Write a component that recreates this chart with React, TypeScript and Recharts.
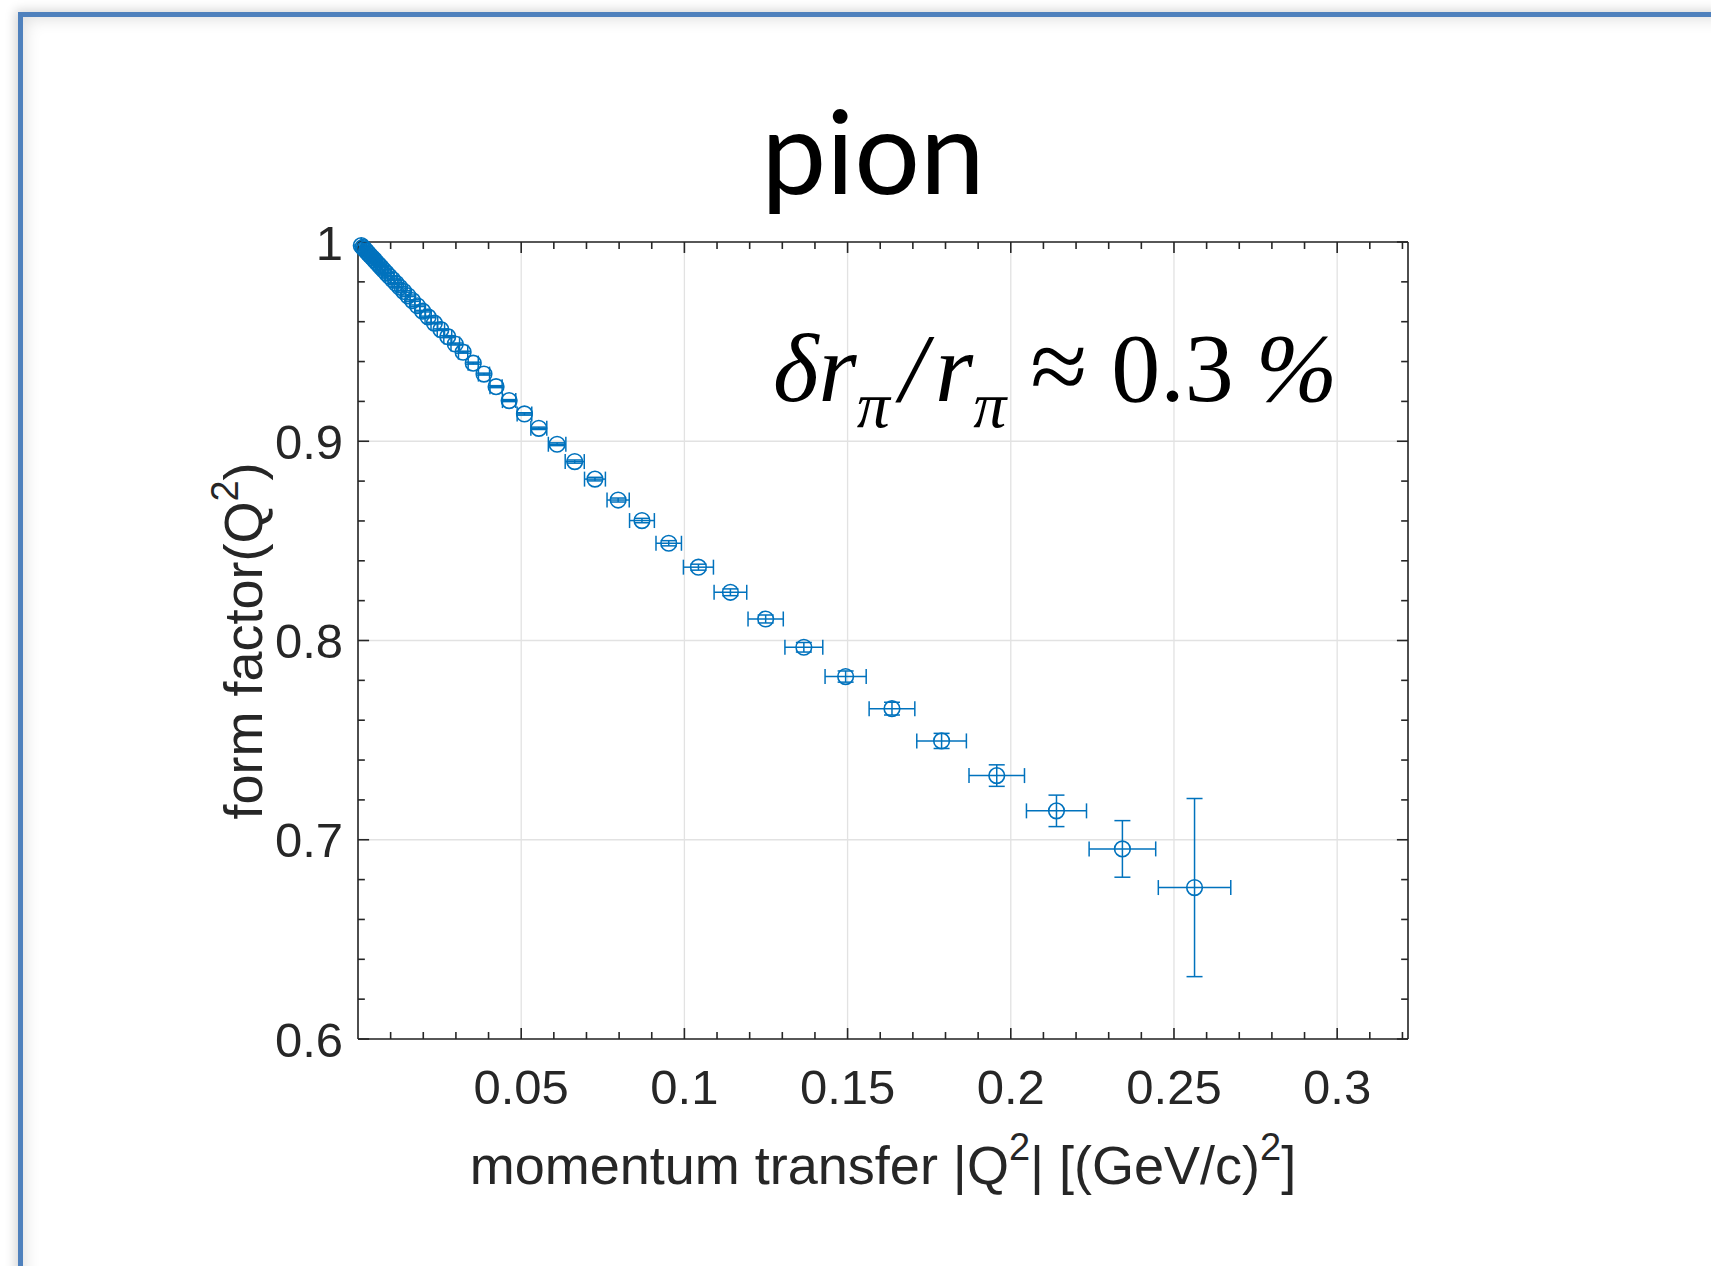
import {
  CartesianGrid,
  ErrorBar,
  ReferenceLine,
  Scatter,
  ScatterChart,
  XAxis,
  YAxis,
} from "recharts";

// momentum transfer |Q^2| in (GeV/c)^2
const qSquared = [
  0.001, 0.0015, 0.002, 0.0026, 0.0032, 0.0038, 0.0044, 0.005, 0.0057, 0.0064,
  0.0071, 0.0079, 0.0087, 0.0096, 0.0106, 0.0117, 0.0128, 0.014, 0.0153, 0.0167,
  0.0182, 0.0198, 0.0215, 0.0234, 0.0254, 0.0275, 0.0298, 0.0322, 0.0353, 0.0386,
  0.0423, 0.0463, 0.051, 0.0554, 0.061, 0.0664, 0.0726, 0.0797, 0.087, 0.0952,
  0.1043, 0.1141, 0.1249, 0.1366, 0.1494, 0.1636, 0.1788, 0.1957, 0.214, 0.2342,
  0.2563,
];
const formFactor = [
  0.9982, 0.9973, 0.9964, 0.9953, 0.9942, 0.9931, 0.9921, 0.991, 0.9897, 0.9885,
  0.9873, 0.9858, 0.9844, 0.9828, 0.9811, 0.9792, 0.9773, 0.9752, 0.973, 0.9706,
  0.968, 0.9653, 0.9624, 0.9593, 0.956, 0.9525, 0.9488, 0.9447, 0.9392, 0.9337,
  0.9274, 0.9204, 0.9137, 0.9065, 0.8985, 0.8898, 0.881, 0.8705, 0.8602, 0.8488,
  0.8368, 0.8242, 0.8108, 0.7966, 0.7819, 0.7658, 0.7496, 0.7322, 0.7145, 0.6954,
  0.676,
];
const qSquaredErr = [
  0.00004, 0.00007, 0.00009, 0.00011, 0.00014, 0.00017, 0.00019, 0.00022, 0.00025, 0.00028,
  0.00031, 0.00035, 0.00038, 0.00042, 0.00047, 0.00051, 0.00056, 0.00062, 0.00067, 0.00073,
  0.0008, 0.00087, 0.00095, 0.00103, 0.00112, 0.00121, 0.00131, 0.00142, 0.00155, 0.0017,
  0.00186, 0.00204, 0.00224, 0.00244, 0.00268, 0.00292, 0.0032, 0.0034, 0.0038, 0.0039,
  0.0046, 0.005, 0.0054, 0.0058, 0.0063, 0.007, 0.0076, 0.0085, 0.0092, 0.0102,
  0.0111,
];
const formFactorErr = [
  0.0003, 0.0003, 0.0003, 0.0003, 0.0003, 0.0003, 0.0003, 0.0003, 0.0003, 0.0003,
  0.0003, 0.0003, 0.0003, 0.0003, 0.0004, 0.0004, 0.0004, 0.0004, 0.0004, 0.0004,
  0.0004, 0.0004, 0.0004, 0.0004, 0.0004, 0.0005, 0.0005, 0.0005, 0.0005, 0.0005,
  0.0005, 0.0005, 0.0006, 0.0006, 0.0007, 0.0008, 0.0009, 0.001, 0.0011, 0.0013,
  0.0015, 0.0017, 0.002, 0.0024, 0.0028, 0.0032, 0.0038, 0.0054, 0.0079, 0.0142,
  0.0447,
];

const xMajorTicks = [0.05, 0.1, 0.15, 0.2, 0.25, 0.3];
const xMinorTicks = [
  0.01, 0.02, 0.03, 0.04, 0.06, 0.07, 0.08, 0.09, 0.11, 0.12, 0.13, 0.14, 0.16,
  0.17, 0.18, 0.19, 0.21, 0.22, 0.23, 0.24, 0.26, 0.27, 0.28, 0.29, 0.31, 0.32,
];
const yMajorTicks = [0.6, 0.7, 0.8, 0.9, 1];
const yMinorTicks = [
  0.62, 0.64, 0.66, 0.68, 0.72, 0.74, 0.76, 0.78, 0.82, 0.84, 0.86, 0.88, 0.92,
  0.94, 0.96, 0.98,
];

const X_MIN = 0;
const X_MAX = 0.3217;
const Y_MIN = 0.6;
const Y_MAX = 1;

const BLUE = "#0072BD";
const AXIS = "#262626";
const TICK_TEXT = "#262626";
const SANS = "'Liberation Sans', Arial, Helvetica, sans-serif";

// inward tick lengths, in data units (about 11 px major / 7 px minor)
const X_TICK_MAJOR = 0.0055;
const X_TICK_MINOR = 0.0035;
const Y_TICK_MAJOR = 0.0034;
const Y_TICK_MINOR = 0.0021;

const points = qSquared.map((x, i) => ({
  x,
  y: formFactor[i],
  xErr: qSquaredErr[i],
  yErr: formFactorErr[i],
}));

const frameLine = { stroke: AXIS, strokeWidth: 1.6 };

function Marker(props: any) {
  const { cx, cy } = props;
  if (cx == null || cy == null) return <g />;
  return <circle cx={cx} cy={cy} r={7.8} fill="none" stroke={BLUE} strokeWidth={1.6} />;
}

function BottomLabel({ x, y, payload }: any) {
  return (
    <text x={x} y={y + 65} textAnchor="middle" fontSize={49} fontFamily={SANS} fill={TICK_TEXT}>
      {String(payload.value)}
    </text>
  );
}

function LeftLabel({ x, y, payload }: any) {
  return (
    <text x={x - 15} y={y} dy="0.36em" textAnchor="end" fontSize={49} fontFamily={SANS} fill={TICK_TEXT}>
      {String(payload.value)}
    </text>
  );
}

const NoLabel = () => <g />;

function tickSegments() {
  const out: any[] = [];
  const add = (key: string, a: any, b: any) =>
    out.push(
      <ReferenceLine
        key={key}
        segment={[a, b]}
        stroke={AXIS}
        strokeWidth={1.6}
        ifOverflow="visible"
      />
    );
  xMajorTicks.forEach((t) => {
    add(`xb${t}`, { x: t, y: Y_MIN }, { x: t, y: Y_MIN + X_TICK_MAJOR });
    add(`xt${t}`, { x: t, y: Y_MAX }, { x: t, y: Y_MAX - X_TICK_MAJOR });
  });
  xMinorTicks.forEach((t) => {
    add(`xbm${t}`, { x: t, y: Y_MIN }, { x: t, y: Y_MIN + X_TICK_MINOR });
    add(`xtm${t}`, { x: t, y: Y_MAX }, { x: t, y: Y_MAX - X_TICK_MINOR });
  });
  yMajorTicks.forEach((t) => {
    add(`yl${t}`, { x: X_MIN, y: t }, { x: X_MIN + Y_TICK_MAJOR, y: t });
    add(`yr${t}`, { x: X_MAX, y: t }, { x: X_MAX - Y_TICK_MAJOR, y: t });
  });
  yMinorTicks.forEach((t) => {
    add(`ylm${t}`, { x: X_MIN, y: t }, { x: X_MIN + Y_TICK_MINOR, y: t });
    add(`yrm${t}`, { x: X_MAX, y: t }, { x: X_MAX - Y_TICK_MINOR, y: t });
  });
  return out;
}

export default function App() {
  const xDomain = [X_MIN, X_MAX];
  const yDomain = [Y_MIN, Y_MAX];

  return (
    <div
      style={{
        position: "absolute",
        left: 0,
        top: 0,
        width: 1711,
        height: 1266,
        overflow: "hidden",
        background: "#ffffff",
      }}
    >
      <div
        style={{
          position: "absolute",
          left: 18,
          top: 12,
          width: 1760,
          height: 1320,
          borderLeft: "5px solid #4F81BD",
          borderTop: "5px solid #4F81BD",
          boxShadow:
            "-3px -2px 10px rgba(0,0,0,0.16), inset 10px 10px 16px -8px rgba(0,0,0,0.13)",
          background: "#ffffff",
        }}
      />
      <div style={{ position: "absolute", left: 0, top: 0 }}>
        <ScatterChart
          width={1711}
          height={1266}
          margin={{ top: 241, right: 302, bottom: 226, left: 357 }}
        >
          <CartesianGrid stroke="#e2e2e2" strokeWidth={1.3} />
          <XAxis
            xAxisId={0}
            type="number"
            dataKey="x"
            domain={xDomain}
            ticks={xMajorTicks}
            interval={0}
            height={1}
            tickSize={0}
            tickMargin={0}
            tick={BottomLabel}
            axisLine={frameLine}
            tickLine={false}
          />
          <XAxis
            xAxisId="top"
            orientation="top"
            type="number"
            domain={xDomain}
            ticks={xMajorTicks}
            interval={0}
            height={1}
            tickSize={0}
            tickMargin={0}
            tick={NoLabel}
            axisLine={frameLine}
            tickLine={false}
          />
          <YAxis
            yAxisId={0}
            type="number"
            dataKey="y"
            domain={yDomain}
            ticks={yMajorTicks}
            interval={0}
            width={1}
            tickSize={0}
            tickMargin={0}
            tick={LeftLabel}
            axisLine={frameLine}
            tickLine={false}
          />
          <YAxis
            yAxisId="right"
            orientation="right"
            type="number"
            domain={yDomain}
            ticks={yMajorTicks}
            interval={0}
            width={1}
            tickSize={0}
            tickMargin={0}
            tick={NoLabel}
            axisLine={frameLine}
            tickLine={false}
          />
          {tickSegments()}
          <Scatter data={points} dataKey="y" shape={Marker} isAnimationActive={false}>
            <ErrorBar
              dataKey="xErr"
              direction="x"
              width={7.5}
              stroke={BLUE}
              strokeWidth={1.5}
              isAnimationActive={false}
            />
            <ErrorBar
              dataKey="yErr"
              direction="y"
              width={8}
              stroke={BLUE}
              strokeWidth={1.5}
              isAnimationActive={false}
            />
          </Scatter>
        </ScatterChart>
      </div>
      <svg
        width={1711}
        height={1266}
        style={{ position: "absolute", left: 0, top: 0, pointerEvents: "none" }}
      >
        <text x={873} y={194} textAnchor="middle" fontSize={116} fontFamily="Lato, 'Open Sans', sans-serif" fill="#000">
          pion
        </text>
        <text x={773} y={401} fontSize={98} fontFamily="'Liberation Serif', 'Times New Roman', serif" fill="#000">
          <tspan fontStyle="italic">δr</tspan>
          <tspan fontStyle="italic" fontSize={66} dy={26}>π</tspan>
          <tspan fontStyle="italic" dy={-26} dx={10}>/</tspan>
          <tspan fontStyle="italic" dx={8}>r</tspan>
          <tspan fontStyle="italic" fontSize={66} dy={26}>π</tspan>
          <tspan dy={-26} dx={24} fontSize={104}>≈</tspan>
          <tspan dx={24}>0.3</tspan>
          <tspan dx={22} fontStyle="italic">%</tspan>
        </text>
        <text x={883} y={1184} textAnchor="middle" fontSize={54} fontFamily={SANS} fill={TICK_TEXT}>
          momentum transfer |Q
          <tspan fontSize={38} dy={-24}>2</tspan>
          <tspan dy={24}>| [(GeV/c)</tspan>
          <tspan fontSize={38} dy={-24}>2</tspan>
          <tspan dy={24}>]</tspan>
        </text>
        <text
          x={262}
          y={641}
          transform="rotate(-90, 262, 641)"
          textAnchor="middle"
          fontSize={54}
          fontFamily={SANS}
          fill={TICK_TEXT}
        >
          form factor(Q
          <tspan fontSize={38} dy={-24}>2</tspan>
          <tspan dy={24}>)</tspan>
        </text>
      </svg>
    </div>
  );
}
